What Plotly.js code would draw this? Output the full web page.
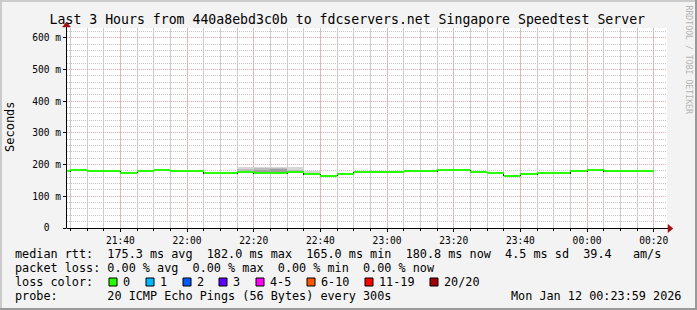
<!DOCTYPE html>
<html><head><meta charset="utf-8">
<script src="https://cdn.plot.ly/plotly-3.0.1.min.js"></script>
<style>
html,body{margin:0;padding:0;background:#f3f3f3;}
#chart{width:697px;height:310px;}
.gridlayer path, .xtick, .ytick, .x2tick, .scatterlayer path.js-line, .barlayer path {shape-rendering: crispEdges !important;}
</style>
</head><body><div id="chart"></div>
<script>
// ---------- data ----------
const titleText = 'Last 3 Hours from 440a8ebd3c0b to fdcservers.net Singapore Speedtest Server';
const xStart = '2026-01-11 21:23:59';
const xEnd = '2026-01-12 00:23:59';
const slotStarts = [
 '2026-01-11 21:20','2026-01-11 21:25','2026-01-11 21:30','2026-01-11 21:35','2026-01-11 21:40','2026-01-11 21:45',
 '2026-01-11 21:50','2026-01-11 21:55','2026-01-11 22:00','2026-01-11 22:05','2026-01-11 22:10','2026-01-11 22:15',
 '2026-01-11 22:20','2026-01-11 22:25','2026-01-11 22:30','2026-01-11 22:35','2026-01-11 22:40','2026-01-11 22:45',
 '2026-01-11 22:50','2026-01-11 22:55','2026-01-11 23:00','2026-01-11 23:05','2026-01-11 23:10','2026-01-11 23:15',
 '2026-01-11 23:20','2026-01-11 23:25','2026-01-11 23:30','2026-01-11 23:35','2026-01-11 23:40','2026-01-11 23:45',
 '2026-01-11 23:50','2026-01-11 23:55','2026-01-12 00:00','2026-01-12 00:05','2026-01-12 00:10','2026-01-12 00:15'];
const lastSlotEnd = '2026-01-12 00:20';
const medianRtt = [
 178.5,181.5,178.5,178.5,174.5,178.5,
 181.5,178.5,178.5,172.5,172.5,175.5,
 172.5,173.0,175.5,169.0,165.5,170.0,
 175.5,175.5,175.5,178.5,178.5,181.5,
 181.5,175.5,172.0,165.0,169.0,172.5,
 172.5,178.5,182.0,178.5,178.5,180.8];
// smoke (ping spread) where visible
const smokeSlots   = ['2026-01-11 21:25','2026-01-11 22:15','2026-01-11 22:20','2026-01-11 22:25','2026-01-11 22:30','2026-01-11 22:35'];
const smokeOuterLo = [180, 174, 170, 170, 174, 167];
const smokeOuterHi = [187, 191, 194, 194, 191, 181];
const smokeInnerLo = [null, 176, 172, 172, 176, null];
const smokeInnerHi = [null, 186, 190, 190, 184, null];
const smokeCoreLo  = [null, null, 174, 173, null, null];
const smokeCoreHi  = [null, null, 184, 186, null, null];

const yTickVals = [0,100,200,300,400,500,600];
const yTickText = ['0\u00a0\u00a0','100 m','200 m','300 m','400 m','500 m','600 m'];
const statNames = ['avg','max','min','now'];
const rttStats = [175.3, 182.0, 165.0, 180.8];
const rttSd = 4.5;
const rttAmps = 39.4;
const lossStats = [0, 0, 0, 0];
const lossLabels = ['0','1','2','3','4-5','6-10','11-19','20/20'];
const lossColors = ['#26ff00','#00b8ff','#0059ff','#5e00ff','#ff00f8','#ff5500','#ff0000','#a10000'];
const probeText = '20 ICMP Echo Pings (56 Bytes) every 300s';
const dateText = 'Mon Jan 12 00:23:59 2026';
const sideText = 'RRDTOOL / TOBI OETIKER';

// ---------- geometry helpers ----------
const L = 67, R = 667, T = 28, B = 228;
const px = x => (x - L) / (R - L);
const py = y => (B - y) / (B - T);
const nb = s => s.replace(/ /g, '\u00a0');
const MONO = 'DejaVu Sans Mono';

// ---------- traces ----------
const traces = [];
function smokeTrace(lo, hi, color) {
  const xs = [], base = [], h = [];
  smokeSlots.forEach((s, i) => { if (lo[i] != null) { xs.push(s); base.push(lo[i]); h.push(hi[i] - lo[i]); } });
  return {type:'bar', x: xs, y: h, base: base, width: 300000, offset: 0,
          marker:{color: color, line:{width:0}}, hoverinfo:'skip', showlegend:false};
}
traces.push(smokeTrace(smokeOuterLo, smokeOuterHi, '#d6d6d6'));
traces.push(smokeTrace(smokeInnerLo, smokeInnerHi, '#bcbcbc'));
traces.push(smokeTrace(smokeCoreLo, smokeCoreHi, '#a0a0a0'));

// thin dark step line (vertical joins)
traces.push({type:'scatter', mode:'lines', x: slotStarts.concat([lastSlotEnd]),
  y: medianRtt.concat([medianRtt[medianRtt.length-1]]), line:{shape:'hv', color:'#222', width:1},
  hoverinfo:'skip', showlegend:false});
// green horizontal segments (loss color 0) - on the overlay axis so it is drawn last
const gx = [], gy = [];
slotStarts.forEach((s, i) => {
  const e = i < slotStarts.length - 1 ? slotStarts[i+1] : lastSlotEnd;
  gx.push(s, e, null); gy.push(medianRtt[i], medianRtt[i], null);
});
traces.push({type:'scatter', mode:'lines', x: gx, y: gy, xaxis:'x2', yaxis:'y', line:{color: lossColors[0], width:2},
  connectgaps:false, hoverinfo:'skip', showlegend:false});

// ---------- annotations ----------
const ann = [];
const line1 = 'median rtt:  ' + rttStats.map((v,i)=>v.toFixed(1)+' ms '+statNames[i]).join('  ') +
  '  ' + rttSd.toFixed(1) + ' ms sd  ' + rttAmps.toFixed(1) + '   am/s';
const line2 = 'packet loss: ' + lossStats.map((v,i)=>v.toFixed(2)+' % '+statNames[i]).join('  ');
const line4 = 'probe:       ' + probeText;
function txt(text, x, y, opts) {
  return Object.assign({text: nb(text), xref:'paper', yref:'paper', x: px(x), y: py(y),
    xanchor:'left', yanchor:'middle', showarrow:false, borderpad:0, borderwidth:0,
    font:{family: MONO, size: 11.8, color:'#000'}}, opts || {});
}
ann.push(txt(line1, 15, 254));
ann.push(txt(line2, 15, 268));
ann.push(txt('loss color:', 15, 282));
ann.push(txt(line4, 15, 296));
ann.push(txt(dateText, 681, 296, {xanchor:'right'}));
const legendBoxPx = [109,146,183,219,256,307,365,430];
const shapes = [];
lossLabels.forEach((lab, i) => {
  const bx = legendBoxPx[i];
  shapes.push({type:'rect', xref:'paper', yref:'paper', x0: px(bx), x1: px(bx+8), y0: py(286), y1: py(278),
    fillcolor: lossColors[i], line:{color:'#000', width:1}});
  ann.push(txt(lab, bx + 14, 282));
});
ann.push({text:'Seconds', xref:'paper', yref:'paper', x: px(10), y: py(127), xanchor:'center', yanchor:'middle',
  textangle:-90, showarrow:false, font:{family: MONO, size: 12, color:'#000'}});
ann.push({text: nb(sideText), xref:'paper', yref:'paper', x: px(688), y: py(59.5), xanchor:'center', yanchor:'middle',
  textangle:90, showarrow:false, font:{family: MONO, size: 8.2, color:'#b4b4b4'}});

// ---------- axes decorations ----------
shapes.push({type:'line', xref:'paper', yref:'paper', x0: px(67), x1: px(669), y0: py(228.5), y1: py(228.5), line:{color:'#000', width:1}});
shapes.push({type:'line', xref:'paper', yref:'paper', x0: px(66.5), x1: px(66.5), y0: py(228.5), y1: py(25), line:{color:'#000', width:1}});
shapes.push({type:'path', xref:'paper', yref:'paper',
  path: `M ${px(668)} ${py(224.5)} L ${px(673)} ${py(228.5)} L ${px(668)} ${py(232.5)} Z`,
  fillcolor:'#a01010', line:{color:'#a01010', width:0.5}});
shapes.push({type:'path', xref:'paper', yref:'paper',
  path: `M ${px(62.5)} ${py(27)} L ${px(66.5)} ${py(22)} L ${px(70.5)} ${py(27)} Z`,
  fillcolor:'#a01010', line:{color:'#a01010', width:0.5}});
// frame
shapes.push({type:'line', xref:'paper', yref:'paper', x0: px(0), x1: px(697), y0: py(1), y1: py(1), line:{color:'#cbcbcb', width:2}});
shapes.push({type:'line', xref:'paper', yref:'paper', x0: px(1), x1: px(1), y0: py(0), y1: py(310), line:{color:'#cbcbcb', width:2}});
shapes.push({type:'line', xref:'paper', yref:'paper', x0: px(0), x1: px(697), y0: py(309), y1: py(309), line:{color:'#999', width:2}});
shapes.push({type:'line', xref:'paper', yref:'paper', x0: px(696), x1: px(696), y0: py(0), y1: py(310), line:{color:'#999', width:2}});

const layout = {
  width: 697, height: 310,
  margin: {l: 67, r: 30, t: 28, b: 82, pad: 0},
  paper_bgcolor: '#f3f3f3', plot_bgcolor: '#ffffff',
  showlegend: false, barmode: 'overlay',
  title: {text: titleText, x: 347.3/697, xanchor:'center', xref:'container', y: 1 - 19/310, yanchor:'middle', yref:'container',
          font:{family: MONO, size: 13.2, color:'#000'}},
  // minor (5 min) grid and ticks
  xaxis: {type:'date', range:[xStart, xEnd], dtick: 300000, showticklabels:false,
    showgrid:true, gridcolor:'#cccccc', gridwidth:1,
    ticks:'outside', ticklen:2, tickcolor:'#000', showline:false, zeroline:false, fixedrange:true},
  // major (20 min) grid, ticks and labels
  xaxis2: {type:'date', range:[xStart, xEnd], overlaying:'x', anchor:'y', side:'bottom',
    dtick: 1200000, tickformat:'%H:%M',
    showgrid:true, gridcolor:'#f4a4a4', griddash:'1px,1px', gridwidth:1,
    ticks:'outside', ticklen:3, tickcolor:'#000', showline:false, zeroline:false,
    tickfont:{family: MONO, size: 9.6, color:'#000'}, fixedrange:true},
  yaxis: {range:[0, 631], tickvals: yTickVals, ticktext: yTickText,
    showgrid:true, gridcolor:'#f4a4a4', griddash:'1px,1px', gridwidth:1,
    ticks:'outside', ticklen:3, tickcolor:'#000', showline:false, zeroline:false,
    tickfont:{family: MONO, size: 9.6, color:'#000'},
    minor:{dtick: 20, showgrid:true, gridcolor:'#c4c4c4', griddash:'1px,1px', gridwidth:1},
    fixedrange:true},
  annotations: ann,
  shapes: shapes
};
Plotly.newPlot('chart', traces, layout, {displayModeBar:false, staticPlot:true});
</script></body></html>
